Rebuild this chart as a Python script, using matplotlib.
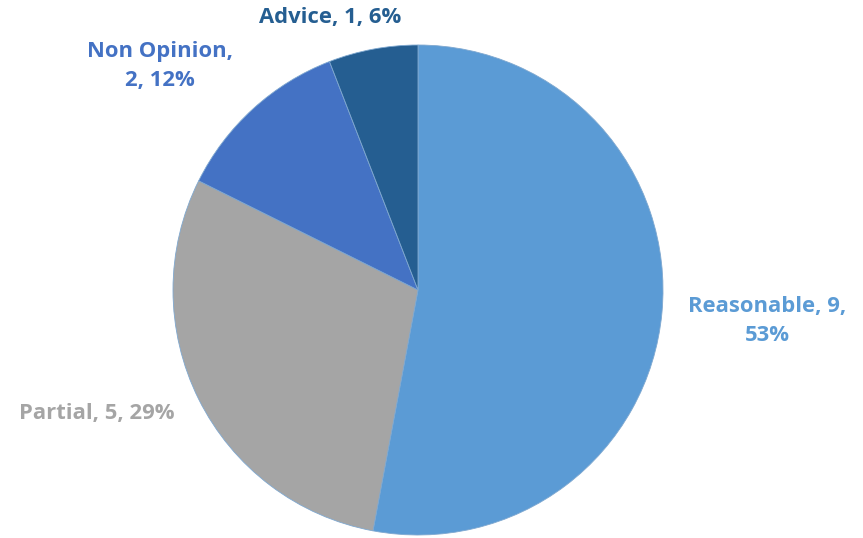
import matplotlib.pyplot as plt

labels = ["Reasonable", "Partial", "Non Opinion", "Advice"]
counts = [9, 5, 2, 1]
percents = ["53%", "29%", "12%", "6%"]
colors = ["#5B9BD5", "#A5A5A5", "#4472C4", "#255E91"]

W, H = 863, 538
cx, cy, r = 418, 290, 245

fig = plt.figure(figsize=(W / 100, H / 100), dpi=100)
ax = fig.add_axes([0, 0, 1, 1])
ax.pie(counts, colors=colors, startangle=90, counterclock=False, radius=1,
       wedgeprops=dict(linewidth=0.6, edgecolor="#7FA8D0"))
ax.set_xlim(-cx / r, (W - cx) / r)
ax.set_ylim(-(H - cy) / r, cy / r)
ax.set_aspect("equal")
ax.axis("off")

# label text anchors in pixels
label_px = [(767, 321), (97, 414), (160, 66), (330, 18)]
texts = [
    f"{labels[0]}, {counts[0]},\n{percents[0]}",
    f"{labels[1]}, {counts[1]}, {percents[1]}",
    f"{labels[2]},\n{counts[2]}, {percents[2]}",
    f"{labels[3]}, {counts[3]}, {percents[3]}",
]
for (px, py), t, c in zip(label_px, texts, colors):
    ax.text((px - cx) / r, (cy - py) / r, t, color=c, ha="center", va="center",
            fontsize=15.8, fontweight="bold", family="Open Sans", linespacing=1.45)

fig.savefig("out.png", dpi=100)
